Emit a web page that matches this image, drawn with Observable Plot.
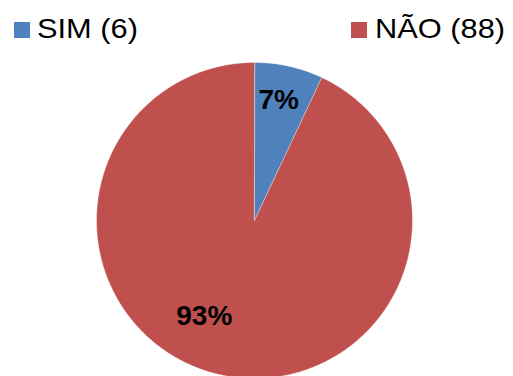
<!DOCTYPE html>
<html>
<head>
<meta charset="utf-8">
<script src="https://cdn.jsdelivr.net/npm/d3@7"></script>
<script src="https://cdn.jsdelivr.net/npm/@observablehq/plot@0.6"></script>
<style>
  html, body { margin: 0; padding: 0; background: #fff; }
  #wrap { position: relative; width: 513px; height: 376px; overflow: hidden; font-family: "Liberation Sans", Arial, sans-serif; }
  .sw { position: absolute; top: 22px; width: 16px; height: 16px; }
  .lt { position: absolute; top: 15px; font-size: 28px; line-height: 28px; color: #000; white-space: nowrap; transform: scaleX(1.1); transform-origin: 0 0; }
</style>
</head>
<body>
<div id="wrap"></div>
<script>
const categories = ["SIM", "NÃO"];
const counts = [6, 88];
const percents = [7, 93];
const colors = ["#4F81BD", "#C0504D"];

const wrap = document.getElementById("wrap");

// Slice geometry from data (angles clockwise from top)
const pie = d3.pie().sort(null).value(d => d.pct)(categories.map((c, i) => ({cat: c, pct: percents[i]})));
const polys = [];
const labels = [];
pie.forEach(s => {
  polys.push({cat: s.data.cat, x: 0, y: 0});
  const n = Math.max(4, Math.ceil((s.endAngle - s.startAngle) / 0.01));
  for (let j = 0; j <= n; j++) {
    const a = s.startAngle + (s.endAngle - s.startAngle) * j / n;
    polys.push({cat: s.data.cat, x: Math.sin(a), y: Math.cos(a)});
  }
  const mid = (s.startAngle + s.endAngle) / 2;
  labels.push({cat: s.data.cat, x: 0.76 * Math.sin(mid), y: 0.76 * Math.cos(mid), text: s.data.pct + "%"});
});

const cx = 254, cy = 220, r = 158;
const chart = Plot.plot({
  width: 513,
  height: 376,
  margin: 0,
  x: {domain: [-1, 1], range: [cx - r, cx + r], axis: null},
  y: {domain: [-1, 1], range: [cy + r, cy - r], axis: null},
  color: {domain: categories, range: colors},
  marks: [
    Plot.line(polys, {x: "x", y: "y", z: "cat", fill: "cat", stroke: "#ffffff", strokeWidth: 0.6, strokeOpacity: 0.6, curve: "linear-closed"}),
    Plot.text(labels, {x: "x", y: "y", text: "text", fontSize: 28, fontWeight: "bold", fill: "#000",
      fontFamily: "Liberation Sans, Arial, sans-serif"})
  ]
});
chart.style.position = "absolute";
chart.style.left = "0";
chart.style.top = "0";
wrap.appendChild(chart);

// Excel-style label placement offsets
chart.querySelectorAll("text").forEach(t => {
  const tr = t.getAttribute("transform") || "";
  if (t.textContent === "93%") t.setAttribute("transform", tr + " translate(-24,-22)");
  if (t.textContent === "7%") t.setAttribute("transform", tr + " translate(-2,-3)");
});

// Legend
const swx = [14, 351];
const txx = [37, 375];
categories.forEach((c, i) => {
  const s = document.createElement("div");
  s.className = "sw";
  s.style.left = swx[i] + "px";
  s.style.background = colors[i];
  wrap.appendChild(s);
  const t = document.createElement("div");
  t.className = "lt";
  t.style.left = txx[i] + "px";
  t.textContent = `${c} (${counts[i]})`;
  wrap.appendChild(t);
});
</script>
</body>
</html>
